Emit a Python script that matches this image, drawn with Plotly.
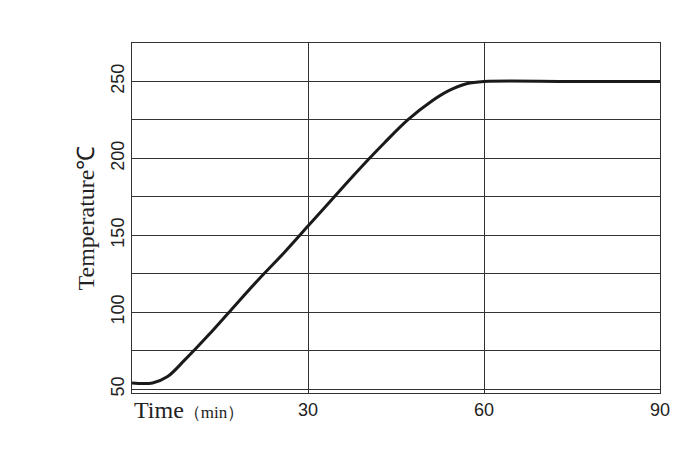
import plotly.graph_objects as go

# values
time_min = [0, 3.5, 6, 9, 13, 17, 21.5, 26, 30, 34, 38.5, 43, 47, 51, 54, 57, 60, 75, 90]
temp_c = [54, 54, 58, 69, 85, 102, 121, 139, 156, 173, 192, 210, 225, 237, 244, 248.5, 250, 250, 250]

x_ticks = [30, 60, 90]

fig = go.Figure()
fig.add_trace(go.Scatter(x=time_min, y=temp_c, mode='lines',
                         line=dict(color='#1a1a1a', width=3, shape='spline', smoothing=1),
                         hoverinfo='skip'))

fig.update_xaxes(range=[0, 90], tickvals=x_ticks, showgrid=True, gridcolor='#333',
                 gridwidth=1, showline=True, linecolor='#333', mirror=True,
                 ticks='', zeroline=False, automargin=False,
                 tickfont=dict(family='Liberation Sans', size=18, color='#222'))
fig.update_yaxes(range=[47.5, 275], tickvals=[50, 75, 100, 125, 150, 175, 200, 225, 250],
                 ticktext=['50', '', '100', '', '150', '', '200', '', '250'],
                 tickangle=-90, showgrid=True, gridcolor='#333', gridwidth=1,
                 showline=True, linecolor='#333', mirror=True, ticks='', zeroline=False,
                 automargin=False,
                 tickfont=dict(family='Liberation Sans', size=18, color='#222'),
                 title=dict(text='Temperature℃', standoff=6,
                            font=dict(family='Liberation Serif', size=24, color='#222')))

fig.add_annotation(x=0, y=0, xref='x', yref='paper', xanchor='left', yanchor='top',
                   yshift=-2, showarrow=False,
                   text='Time<span style="font-size:17px">（min）</span>',
                   font=dict(family='Liberation Serif', size=24, color='#222'))

fig.update_layout(width=684, height=452, showlegend=False,
                  plot_bgcolor='white', paper_bgcolor='white',
                  margin=dict(l=124, r=32, t=35, b=67))

fig.write_html("out.html")
